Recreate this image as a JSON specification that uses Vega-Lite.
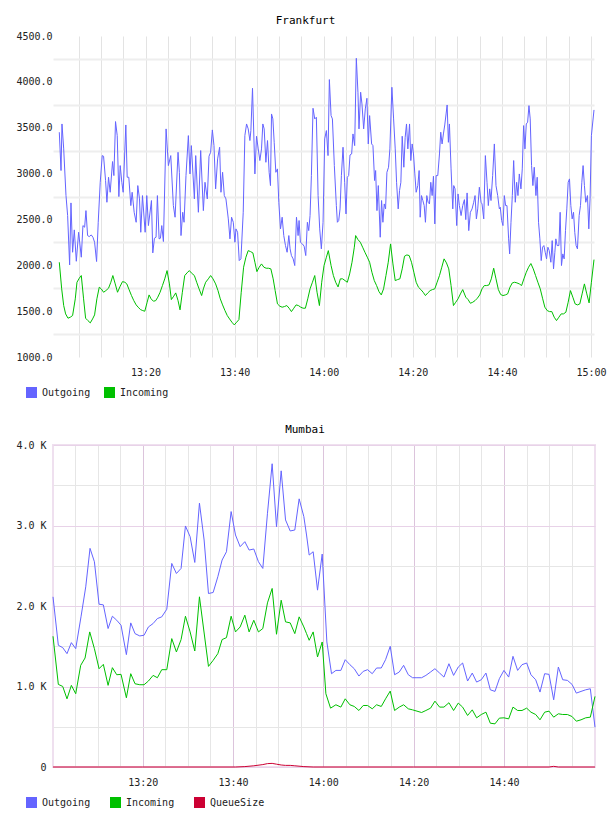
{
  "$schema": "https://vega.github.io/schema/vega-lite/v6.json",
  "background": "white",
  "padding": {"left": 14, "top": 15, "right": 0, "bottom": 0},
  "spacing": 10,
  "resolve": {"scale": {"color": "independent"}, "legend": {"color": "independent"}},
  "config": {
    "font": "DejaVu Sans Mono",
    "view": {"stroke": null},
    "axis": {
      "labelFont": "DejaVu Sans Mono",
      "labelFontSize": 10,
      "labelColor": "#222222",
      "ticks": false,
      "domain": false,
      "labelOverlap": false,
      "labelFlush": false
    },
    "title": {
      "font": "DejaVu Sans Mono",
      "fontSize": 11,
      "fontWeight": "normal",
      "color": "#000000",
      "anchor": "middle",
      "offset": 5
    }
  },
  "vconcat": [
    {
      "hconcat": [
        {
          "title": {"text": "Frankfurt", "dx": -18},
          "width": 541,
          "height": 321,
          "data": {
            "values": [
              {"time": "1900-01-01T13:00:39", "series": "Outgoing", "value": 3451},
              {"time": "1900-01-01T13:01:02", "series": "Outgoing", "value": 3033},
              {"time": "1900-01-01T13:01:15", "series": "Outgoing", "value": 3541},
              {"time": "1900-01-01T13:01:38", "series": "Outgoing", "value": 3269},
              {"time": "1900-01-01T13:02:09", "series": "Outgoing", "value": 2760},
              {"time": "1900-01-01T13:02:31", "series": "Outgoing", "value": 2542},
              {"time": "1900-01-01T13:02:58", "series": "Outgoing", "value": 2004},
              {"time": "1900-01-01T13:03:16", "series": "Outgoing", "value": 2680},
              {"time": "1900-01-01T13:03:38", "series": "Outgoing", "value": 2142},
              {"time": "1900-01-01T13:04:01", "series": "Outgoing", "value": 2386},
              {"time": "1900-01-01T13:04:28", "series": "Outgoing", "value": 2044},
              {"time": "1900-01-01T13:04:59", "series": "Outgoing", "value": 2360},
              {"time": "1900-01-01T13:05:35", "series": "Outgoing", "value": 2088},
              {"time": "1900-01-01T13:05:57", "series": "Outgoing", "value": 2433},
              {"time": "1900-01-01T13:06:20", "series": "Outgoing", "value": 2415},
              {"time": "1900-01-01T13:06:38", "series": "Outgoing", "value": 2596},
              {"time": "1900-01-01T13:07:00", "series": "Outgoing", "value": 2324},
              {"time": "1900-01-01T13:07:22", "series": "Outgoing", "value": 2313},
              {"time": "1900-01-01T13:07:49", "series": "Outgoing", "value": 2331},
              {"time": "1900-01-01T13:08:12", "series": "Outgoing", "value": 2306},
              {"time": "1900-01-01T13:08:34", "series": "Outgoing", "value": 2251},
              {"time": "1900-01-01T13:09:01", "series": "Outgoing", "value": 2041},
              {"time": "1900-01-01T13:09:23", "series": "Outgoing", "value": 2469},
              {"time": "1900-01-01T13:09:50", "series": "Outgoing", "value": 2905},
              {"time": "1900-01-01T13:10:17", "series": "Outgoing", "value": 3196},
              {"time": "1900-01-01T13:10:35", "series": "Outgoing", "value": 3189},
              {"time": "1900-01-01T13:11:02", "series": "Outgoing", "value": 2924},
              {"time": "1900-01-01T13:11:20", "series": "Outgoing", "value": 2687},
              {"time": "1900-01-01T13:11:42", "series": "Outgoing", "value": 2960},
              {"time": "1900-01-01T13:12:04", "series": "Outgoing", "value": 2796},
              {"time": "1900-01-01T13:12:36", "series": "Outgoing", "value": 3131},
              {"time": "1900-01-01T13:12:54", "series": "Outgoing", "value": 2978},
              {"time": "1900-01-01T13:13:16", "series": "Outgoing", "value": 3567},
              {"time": "1900-01-01T13:13:39", "series": "Outgoing", "value": 3414},
              {"time": "1900-01-01T13:14:01", "series": "Outgoing", "value": 2749},
              {"time": "1900-01-01T13:14:19", "series": "Outgoing", "value": 3087},
              {"time": "1900-01-01T13:14:41", "series": "Outgoing", "value": 2905},
              {"time": "1900-01-01T13:14:59", "series": "Outgoing", "value": 2796},
              {"time": "1900-01-01T13:15:35", "series": "Outgoing", "value": 3530},
              {"time": "1900-01-01T13:15:53", "series": "Outgoing", "value": 2960},
              {"time": "1900-01-01T13:16:15", "series": "Outgoing", "value": 2960},
              {"time": "1900-01-01T13:16:42", "series": "Outgoing", "value": 2651},
              {"time": "1900-01-01T13:17:00", "series": "Outgoing", "value": 2796},
              {"time": "1900-01-01T13:17:27", "series": "Outgoing", "value": 2578},
              {"time": "1900-01-01T13:17:54", "series": "Outgoing", "value": 2469},
              {"time": "1900-01-01T13:18:16", "series": "Outgoing", "value": 2869},
              {"time": "1900-01-01T13:18:39", "series": "Outgoing", "value": 2724},
              {"time": "1900-01-01T13:18:56", "series": "Outgoing", "value": 2360},
              {"time": "1900-01-01T13:19:19", "series": "Outgoing", "value": 2760},
              {"time": "1900-01-01T13:19:55", "series": "Outgoing", "value": 2360},
              {"time": "1900-01-01T13:20:17", "series": "Outgoing", "value": 2760},
              {"time": "1900-01-01T13:20:39", "series": "Outgoing", "value": 2433},
              {"time": "1900-01-01T13:21:20", "series": "Outgoing", "value": 2706},
              {"time": "1900-01-01T13:21:38", "series": "Outgoing", "value": 2135},
              {"time": "1900-01-01T13:22:00", "series": "Outgoing", "value": 2295},
              {"time": "1900-01-01T13:22:22", "series": "Outgoing", "value": 2306},
              {"time": "1900-01-01T13:22:40", "series": "Outgoing", "value": 2760},
              {"time": "1900-01-01T13:23:03", "series": "Outgoing", "value": 2288},
              {"time": "1900-01-01T13:23:21", "series": "Outgoing", "value": 2295},
              {"time": "1900-01-01T13:23:39", "series": "Outgoing", "value": 2433},
              {"time": "1900-01-01T13:24:01", "series": "Outgoing", "value": 2259},
              {"time": "1900-01-01T13:24:37", "series": "Outgoing", "value": 3487},
              {"time": "1900-01-01T13:25:08", "series": "Outgoing", "value": 3087},
              {"time": "1900-01-01T13:25:40", "series": "Outgoing", "value": 3196},
              {"time": "1900-01-01T13:26:15", "series": "Outgoing", "value": 2651},
              {"time": "1900-01-01T13:26:38", "series": "Outgoing", "value": 2524},
              {"time": "1900-01-01T13:27:18", "series": "Outgoing", "value": 3232},
              {"time": "1900-01-01T13:27:36", "series": "Outgoing", "value": 3014},
              {"time": "1900-01-01T13:27:58", "series": "Outgoing", "value": 2324},
              {"time": "1900-01-01T13:28:21", "series": "Outgoing", "value": 2578},
              {"time": "1900-01-01T13:28:39", "series": "Outgoing", "value": 2469},
              {"time": "1900-01-01T13:29:05", "series": "Outgoing", "value": 2978},
              {"time": "1900-01-01T13:29:37", "series": "Outgoing", "value": 3414},
              {"time": "1900-01-01T13:29:59", "series": "Outgoing", "value": 2996},
              {"time": "1900-01-01T13:30:17", "series": "Outgoing", "value": 3305},
              {"time": "1900-01-01T13:30:58", "series": "Outgoing", "value": 2724},
              {"time": "1900-01-01T13:31:16", "series": "Outgoing", "value": 3196},
              {"time": "1900-01-01T13:31:52", "series": "Outgoing", "value": 2578},
              {"time": "1900-01-01T13:32:23", "series": "Outgoing", "value": 3251},
              {"time": "1900-01-01T13:32:59", "series": "Outgoing", "value": 2596},
              {"time": "1900-01-01T13:33:21", "series": "Outgoing", "value": 2905},
              {"time": "1900-01-01T13:33:52", "series": "Outgoing", "value": 2724},
              {"time": "1900-01-01T13:34:15", "series": "Outgoing", "value": 3189},
              {"time": "1900-01-01T13:34:37", "series": "Outgoing", "value": 3232},
              {"time": "1900-01-01T13:35:00", "series": "Outgoing", "value": 3476},
              {"time": "1900-01-01T13:35:22", "series": "Outgoing", "value": 3305},
              {"time": "1900-01-01T13:35:44", "series": "Outgoing", "value": 2833},
              {"time": "1900-01-01T13:36:11", "series": "Outgoing", "value": 3160},
              {"time": "1900-01-01T13:36:38", "series": "Outgoing", "value": 3287},
              {"time": "1900-01-01T13:36:56", "series": "Outgoing", "value": 2796},
              {"time": "1900-01-01T13:37:18", "series": "Outgoing", "value": 3014},
              {"time": "1900-01-01T13:37:41", "series": "Outgoing", "value": 2760},
              {"time": "1900-01-01T13:38:03", "series": "Outgoing", "value": 2724},
              {"time": "1900-01-01T13:38:35", "series": "Outgoing", "value": 2506},
              {"time": "1900-01-01T13:38:57", "series": "Outgoing", "value": 2288},
              {"time": "1900-01-01T13:39:19", "series": "Outgoing", "value": 2524},
              {"time": "1900-01-01T13:39:42", "series": "Outgoing", "value": 2469},
              {"time": "1900-01-01T13:40:04", "series": "Outgoing", "value": 2251},
              {"time": "1900-01-01T13:40:18", "series": "Outgoing", "value": 2397},
              {"time": "1900-01-01T13:40:40", "series": "Outgoing", "value": 2360},
              {"time": "1900-01-01T13:41:02", "series": "Outgoing", "value": 2051},
              {"time": "1900-01-01T13:41:25", "series": "Outgoing", "value": 2070},
              {"time": "1900-01-01T13:41:56", "series": "Outgoing", "value": 2578},
              {"time": "1900-01-01T13:42:18", "series": "Outgoing", "value": 3414},
              {"time": "1900-01-01T13:42:41", "series": "Outgoing", "value": 3541},
              {"time": "1900-01-01T13:43:03", "series": "Outgoing", "value": 3487},
              {"time": "1900-01-01T13:43:26", "series": "Outgoing", "value": 3360},
              {"time": "1900-01-01T13:43:39", "series": "Outgoing", "value": 3469},
              {"time": "1900-01-01T13:44:01", "series": "Outgoing", "value": 3930},
              {"time": "1900-01-01T13:44:33", "series": "Outgoing", "value": 2996},
              {"time": "1900-01-01T13:44:55", "series": "Outgoing", "value": 3407},
              {"time": "1900-01-01T13:45:18", "series": "Outgoing", "value": 3269},
              {"time": "1900-01-01T13:45:40", "series": "Outgoing", "value": 3142},
              {"time": "1900-01-01T13:46:02", "series": "Outgoing", "value": 3269},
              {"time": "1900-01-01T13:46:20", "series": "Outgoing", "value": 3541},
              {"time": "1900-01-01T13:46:38", "series": "Outgoing", "value": 3487},
              {"time": "1900-01-01T13:47:01", "series": "Outgoing", "value": 3123},
              {"time": "1900-01-01T13:47:23", "series": "Outgoing", "value": 3360},
              {"time": "1900-01-01T13:47:45", "series": "Outgoing", "value": 3014},
              {"time": "1900-01-01T13:48:03", "series": "Outgoing", "value": 2869},
              {"time": "1900-01-01T13:48:17", "series": "Outgoing", "value": 3650},
              {"time": "1900-01-01T13:48:35", "series": "Outgoing", "value": 3596},
              {"time": "1900-01-01T13:48:53", "series": "Outgoing", "value": 3341},
              {"time": "1900-01-01T13:49:15", "series": "Outgoing", "value": 3014},
              {"time": "1900-01-01T13:49:37", "series": "Outgoing", "value": 3051},
              {"time": "1900-01-01T13:49:55", "series": "Outgoing", "value": 2687},
              {"time": "1900-01-01T13:50:18", "series": "Outgoing", "value": 2397},
              {"time": "1900-01-01T13:50:40", "series": "Outgoing", "value": 2524},
              {"time": "1900-01-01T13:51:02", "series": "Outgoing", "value": 2324},
              {"time": "1900-01-01T13:51:25", "series": "Outgoing", "value": 2215},
              {"time": "1900-01-01T13:51:47", "series": "Outgoing", "value": 2142},
              {"time": "1900-01-01T13:52:10", "series": "Outgoing", "value": 2324},
              {"time": "1900-01-01T13:52:27", "series": "Outgoing", "value": 2179},
              {"time": "1900-01-01T13:52:45", "series": "Outgoing", "value": 2106},
              {"time": "1900-01-01T13:53:08", "series": "Outgoing", "value": 2070},
              {"time": "1900-01-01T13:53:30", "series": "Outgoing", "value": 1997},
              {"time": "1900-01-01T13:53:53", "series": "Outgoing", "value": 2524},
              {"time": "1900-01-01T13:54:15", "series": "Outgoing", "value": 2324},
              {"time": "1900-01-01T13:54:28", "series": "Outgoing", "value": 2488},
              {"time": "1900-01-01T13:54:46", "series": "Outgoing", "value": 2251},
              {"time": "1900-01-01T13:55:13", "series": "Outgoing", "value": 2233},
              {"time": "1900-01-01T13:55:36", "series": "Outgoing", "value": 2208},
              {"time": "1900-01-01T13:55:58", "series": "Outgoing", "value": 2106},
              {"time": "1900-01-01T13:56:20", "series": "Outgoing", "value": 2469},
              {"time": "1900-01-01T13:56:38", "series": "Outgoing", "value": 2378},
              {"time": "1900-01-01T13:56:56", "series": "Outgoing", "value": 2542},
              {"time": "1900-01-01T13:57:14", "series": "Outgoing", "value": 2978},
              {"time": "1900-01-01T13:57:36", "series": "Outgoing", "value": 3712},
              {"time": "1900-01-01T13:57:59", "series": "Outgoing", "value": 3596},
              {"time": "1900-01-01T13:58:21", "series": "Outgoing", "value": 3614},
              {"time": "1900-01-01T13:58:44", "series": "Outgoing", "value": 2760},
              {"time": "1900-01-01T13:59:06", "series": "Outgoing", "value": 2397},
              {"time": "1900-01-01T13:59:28", "series": "Outgoing", "value": 2179},
              {"time": "1900-01-01T13:59:51", "series": "Outgoing", "value": 2469},
              {"time": "1900-01-01T14:00:13", "series": "Outgoing", "value": 3378},
              {"time": "1900-01-01T14:00:36", "series": "Outgoing", "value": 3469},
              {"time": "1900-01-01T14:00:58", "series": "Outgoing", "value": 3196},
              {"time": "1900-01-01T14:01:16", "series": "Outgoing", "value": 4025},
              {"time": "1900-01-01T14:01:39", "series": "Outgoing", "value": 3632},
              {"time": "1900-01-01T14:01:57", "series": "Outgoing", "value": 3596},
              {"time": "1900-01-01T14:02:23", "series": "Outgoing", "value": 3087},
              {"time": "1900-01-01T14:02:50", "series": "Outgoing", "value": 2651},
              {"time": "1900-01-01T14:03:04", "series": "Outgoing", "value": 2469},
              {"time": "1900-01-01T14:03:22", "series": "Outgoing", "value": 2488},
              {"time": "1900-01-01T14:03:40", "series": "Outgoing", "value": 2615},
              {"time": "1900-01-01T14:03:58", "series": "Outgoing", "value": 2978},
              {"time": "1900-01-01T14:04:20", "series": "Outgoing", "value": 3287},
              {"time": "1900-01-01T14:04:42", "series": "Outgoing", "value": 2905},
              {"time": "1900-01-01T14:05:00", "series": "Outgoing", "value": 2560},
              {"time": "1900-01-01T14:05:18", "series": "Outgoing", "value": 2960},
              {"time": "1900-01-01T14:05:36", "series": "Outgoing", "value": 2978},
              {"time": "1900-01-01T14:05:54", "series": "Outgoing", "value": 3203},
              {"time": "1900-01-01T14:06:16", "series": "Outgoing", "value": 3214},
              {"time": "1900-01-01T14:06:34", "series": "Outgoing", "value": 3432},
              {"time": "1900-01-01T14:06:57", "series": "Outgoing", "value": 3305},
              {"time": "1900-01-01T14:07:19", "series": "Outgoing", "value": 4257},
              {"time": "1900-01-01T14:07:41", "series": "Outgoing", "value": 3887},
              {"time": "1900-01-01T14:07:55", "series": "Outgoing", "value": 3487},
              {"time": "1900-01-01T14:08:17", "series": "Outgoing", "value": 3887},
              {"time": "1900-01-01T14:08:35", "series": "Outgoing", "value": 3759},
              {"time": "1900-01-01T14:08:58", "series": "Outgoing", "value": 3487},
              {"time": "1900-01-01T14:09:20", "series": "Outgoing", "value": 3705},
              {"time": "1900-01-01T14:09:42", "series": "Outgoing", "value": 3821},
              {"time": "1900-01-01T14:10:00", "series": "Outgoing", "value": 3323},
              {"time": "1900-01-01T14:10:18", "series": "Outgoing", "value": 3632},
              {"time": "1900-01-01T14:10:45", "series": "Outgoing", "value": 3323},
              {"time": "1900-01-01T14:11:03", "series": "Outgoing", "value": 3305},
              {"time": "1900-01-01T14:11:25", "series": "Outgoing", "value": 2924},
              {"time": "1900-01-01T14:11:39", "series": "Outgoing", "value": 3033},
              {"time": "1900-01-01T14:11:57", "series": "Outgoing", "value": 2596},
              {"time": "1900-01-01T14:12:15", "series": "Outgoing", "value": 2869},
              {"time": "1900-01-01T14:12:41", "series": "Outgoing", "value": 2306},
              {"time": "1900-01-01T14:12:59", "series": "Outgoing", "value": 2706},
              {"time": "1900-01-01T14:13:17", "series": "Outgoing", "value": 2469},
              {"time": "1900-01-01T14:13:35", "series": "Outgoing", "value": 2669},
              {"time": "1900-01-01T14:13:53", "series": "Outgoing", "value": 2615},
              {"time": "1900-01-01T14:14:11", "series": "Outgoing", "value": 3014},
              {"time": "1900-01-01T14:14:33", "series": "Outgoing", "value": 3069},
              {"time": "1900-01-01T14:14:51", "series": "Outgoing", "value": 3269},
              {"time": "1900-01-01T14:15:18", "series": "Outgoing", "value": 3941},
              {"time": "1900-01-01T14:15:41", "series": "Outgoing", "value": 3596},
              {"time": "1900-01-01T14:16:03", "series": "Outgoing", "value": 3269},
              {"time": "1900-01-01T14:16:21", "series": "Outgoing", "value": 2905},
              {"time": "1900-01-01T14:16:43", "series": "Outgoing", "value": 2615},
              {"time": "1900-01-01T14:17:01", "series": "Outgoing", "value": 2815},
              {"time": "1900-01-01T14:17:19", "series": "Outgoing", "value": 2905},
              {"time": "1900-01-01T14:17:37", "series": "Outgoing", "value": 3407},
              {"time": "1900-01-01T14:17:59", "series": "Outgoing", "value": 3069},
              {"time": "1900-01-01T14:18:17", "series": "Outgoing", "value": 3396},
              {"time": "1900-01-01T14:18:35", "series": "Outgoing", "value": 3541},
              {"time": "1900-01-01T14:18:53", "series": "Outgoing", "value": 3269},
              {"time": "1900-01-01T14:19:16", "series": "Outgoing", "value": 3541},
              {"time": "1900-01-01T14:19:33", "series": "Outgoing", "value": 3142},
              {"time": "1900-01-01T14:19:51", "series": "Outgoing", "value": 3323},
              {"time": "1900-01-01T14:20:09", "series": "Outgoing", "value": 3214},
              {"time": "1900-01-01T14:20:27", "series": "Outgoing", "value": 2996},
              {"time": "1900-01-01T14:20:45", "series": "Outgoing", "value": 2796},
              {"time": "1900-01-01T14:21:07", "series": "Outgoing", "value": 2869},
              {"time": "1900-01-01T14:21:25", "series": "Outgoing", "value": 3033},
              {"time": "1900-01-01T14:21:39", "series": "Outgoing", "value": 2524},
              {"time": "1900-01-01T14:21:57", "series": "Outgoing", "value": 2760},
              {"time": "1900-01-01T14:22:15", "series": "Outgoing", "value": 2706},
              {"time": "1900-01-01T14:22:33", "series": "Outgoing", "value": 2651},
              {"time": "1900-01-01T14:22:50", "series": "Outgoing", "value": 2469},
              {"time": "1900-01-01T14:23:08", "series": "Outgoing", "value": 2760},
              {"time": "1900-01-01T14:23:26", "series": "Outgoing", "value": 2687},
              {"time": "1900-01-01T14:23:44", "series": "Outgoing", "value": 2669},
              {"time": "1900-01-01T14:24:02", "series": "Outgoing", "value": 2905},
              {"time": "1900-01-01T14:24:20", "series": "Outgoing", "value": 2760},
              {"time": "1900-01-01T14:24:38", "series": "Outgoing", "value": 2971},
              {"time": "1900-01-01T14:24:56", "series": "Outgoing", "value": 2451},
              {"time": "1900-01-01T14:25:14", "series": "Outgoing", "value": 2978},
              {"time": "1900-01-01T14:25:36", "series": "Outgoing", "value": 2978},
              {"time": "1900-01-01T14:25:59", "series": "Outgoing", "value": 3214},
              {"time": "1900-01-01T14:26:16", "series": "Outgoing", "value": 3451},
              {"time": "1900-01-01T14:26:34", "series": "Outgoing", "value": 3323},
              {"time": "1900-01-01T14:26:52", "series": "Outgoing", "value": 3432},
              {"time": "1900-01-01T14:27:10", "series": "Outgoing", "value": 3530},
              {"time": "1900-01-01T14:27:28", "series": "Outgoing", "value": 3650},
              {"time": "1900-01-01T14:27:42", "series": "Outgoing", "value": 3748},
              {"time": "1900-01-01T14:27:59", "series": "Outgoing", "value": 3341},
              {"time": "1900-01-01T14:28:13", "series": "Outgoing", "value": 3541},
              {"time": "1900-01-01T14:28:35", "series": "Outgoing", "value": 3051},
              {"time": "1900-01-01T14:28:58", "series": "Outgoing", "value": 2615},
              {"time": "1900-01-01T14:29:11", "series": "Outgoing", "value": 2869},
              {"time": "1900-01-01T14:29:29", "series": "Outgoing", "value": 2833},
              {"time": "1900-01-01T14:29:51", "series": "Outgoing", "value": 2433},
              {"time": "1900-01-01T14:30:09", "series": "Outgoing", "value": 2778},
              {"time": "1900-01-01T14:30:27", "series": "Outgoing", "value": 2651},
              {"time": "1900-01-01T14:30:50", "series": "Outgoing", "value": 2542},
              {"time": "1900-01-01T14:31:12", "series": "Outgoing", "value": 2651},
              {"time": "1900-01-01T14:31:35", "series": "Outgoing", "value": 2716},
              {"time": "1900-01-01T14:31:53", "series": "Outgoing", "value": 2498},
              {"time": "1900-01-01T14:32:11", "series": "Outgoing", "value": 2789},
              {"time": "1900-01-01T14:32:33", "series": "Outgoing", "value": 2378},
              {"time": "1900-01-01T14:32:55", "series": "Outgoing", "value": 2578},
              {"time": "1900-01-01T14:33:18", "series": "Outgoing", "value": 2615},
              {"time": "1900-01-01T14:33:40", "series": "Outgoing", "value": 2687},
              {"time": "1900-01-01T14:33:58", "series": "Outgoing", "value": 2760},
              {"time": "1900-01-01T14:34:16", "series": "Outgoing", "value": 2506},
              {"time": "1900-01-01T14:34:34", "series": "Outgoing", "value": 2615},
              {"time": "1900-01-01T14:34:56", "series": "Outgoing", "value": 2851},
              {"time": "1900-01-01T14:35:19", "series": "Outgoing", "value": 2687},
              {"time": "1900-01-01T14:35:32", "series": "Outgoing", "value": 2669},
              {"time": "1900-01-01T14:35:55", "series": "Outgoing", "value": 2506},
              {"time": "1900-01-01T14:36:17", "series": "Outgoing", "value": 3196},
              {"time": "1900-01-01T14:36:39", "series": "Outgoing", "value": 2905},
              {"time": "1900-01-01T14:36:57", "series": "Outgoing", "value": 2651},
              {"time": "1900-01-01T14:37:15", "series": "Outgoing", "value": 2833},
              {"time": "1900-01-01T14:37:33", "series": "Outgoing", "value": 2706},
              {"time": "1900-01-01T14:37:55", "series": "Outgoing", "value": 2978},
              {"time": "1900-01-01T14:38:18", "series": "Outgoing", "value": 3323},
              {"time": "1900-01-01T14:38:40", "series": "Outgoing", "value": 2869},
              {"time": "1900-01-01T14:39:03", "series": "Outgoing", "value": 2760},
              {"time": "1900-01-01T14:39:25", "series": "Outgoing", "value": 2615},
              {"time": "1900-01-01T14:39:38", "series": "Outgoing", "value": 2633},
              {"time": "1900-01-01T14:39:56", "series": "Outgoing", "value": 2488},
              {"time": "1900-01-01T14:40:14", "series": "Outgoing", "value": 2433},
              {"time": "1900-01-01T14:40:32", "series": "Outgoing", "value": 2760},
              {"time": "1900-01-01T14:40:50", "series": "Outgoing", "value": 2651},
              {"time": "1900-01-01T14:41:08", "series": "Outgoing", "value": 2651},
              {"time": "1900-01-01T14:41:30", "series": "Outgoing", "value": 2288},
              {"time": "1900-01-01T14:41:44", "series": "Outgoing", "value": 2124},
              {"time": "1900-01-01T14:42:02", "series": "Outgoing", "value": 2469},
              {"time": "1900-01-01T14:42:20", "series": "Outgoing", "value": 2760},
              {"time": "1900-01-01T14:42:38", "series": "Outgoing", "value": 3142},
              {"time": "1900-01-01T14:43:00", "series": "Outgoing", "value": 2687},
              {"time": "1900-01-01T14:43:18", "series": "Outgoing", "value": 2905},
              {"time": "1900-01-01T14:43:36", "series": "Outgoing", "value": 2760},
              {"time": "1900-01-01T14:43:54", "series": "Outgoing", "value": 2996},
              {"time": "1900-01-01T14:44:16", "series": "Outgoing", "value": 2833},
              {"time": "1900-01-01T14:44:34", "series": "Outgoing", "value": 3051},
              {"time": "1900-01-01T14:44:52", "series": "Outgoing", "value": 3523},
              {"time": "1900-01-01T14:45:10", "series": "Outgoing", "value": 3269},
              {"time": "1900-01-01T14:45:28", "series": "Outgoing", "value": 3541},
              {"time": "1900-01-01T14:45:46", "series": "Outgoing", "value": 3560},
              {"time": "1900-01-01T14:46:04", "series": "Outgoing", "value": 3741},
              {"time": "1900-01-01T14:46:21", "series": "Outgoing", "value": 3596},
              {"time": "1900-01-01T14:46:39", "series": "Outgoing", "value": 3087},
              {"time": "1900-01-01T14:46:57", "series": "Outgoing", "value": 2869},
              {"time": "1900-01-01T14:47:15", "series": "Outgoing", "value": 3069},
              {"time": "1900-01-01T14:47:38", "series": "Outgoing", "value": 2760},
              {"time": "1900-01-01T14:47:55", "series": "Outgoing", "value": 2960},
              {"time": "1900-01-01T14:48:13", "series": "Outgoing", "value": 2469},
              {"time": "1900-01-01T14:48:31", "series": "Outgoing", "value": 2288},
              {"time": "1900-01-01T14:48:49", "series": "Outgoing", "value": 2051},
              {"time": "1900-01-01T14:49:07", "series": "Outgoing", "value": 2197},
              {"time": "1900-01-01T14:49:25", "series": "Outgoing", "value": 2215},
              {"time": "1900-01-01T14:49:43", "series": "Outgoing", "value": 2142},
              {"time": "1900-01-01T14:50:01", "series": "Outgoing", "value": 2070},
              {"time": "1900-01-01T14:50:19", "series": "Outgoing", "value": 2197},
              {"time": "1900-01-01T14:50:37", "series": "Outgoing", "value": 2160},
              {"time": "1900-01-01T14:50:59", "series": "Outgoing", "value": 2033},
              {"time": "1900-01-01T14:51:17", "series": "Outgoing", "value": 2269},
              {"time": "1900-01-01T14:51:35", "series": "Outgoing", "value": 1961},
              {"time": "1900-01-01T14:51:53", "series": "Outgoing", "value": 2142},
              {"time": "1900-01-01T14:52:06", "series": "Outgoing", "value": 2288},
              {"time": "1900-01-01T14:52:24", "series": "Outgoing", "value": 2215},
              {"time": "1900-01-01T14:52:47", "series": "Outgoing", "value": 2215},
              {"time": "1900-01-01T14:53:04", "series": "Outgoing", "value": 2578},
              {"time": "1900-01-01T14:53:22", "series": "Outgoing", "value": 1997},
              {"time": "1900-01-01T14:53:40", "series": "Outgoing", "value": 2124},
              {"time": "1900-01-01T14:53:58", "series": "Outgoing", "value": 2070},
              {"time": "1900-01-01T14:54:16", "series": "Outgoing", "value": 2378},
              {"time": "1900-01-01T14:54:34", "series": "Outgoing", "value": 2615},
              {"time": "1900-01-01T14:54:52", "series": "Outgoing", "value": 2905},
              {"time": "1900-01-01T14:55:10", "series": "Outgoing", "value": 2942},
              {"time": "1900-01-01T14:55:28", "series": "Outgoing", "value": 2651},
              {"time": "1900-01-01T14:55:46", "series": "Outgoing", "value": 2506},
              {"time": "1900-01-01T14:56:04", "series": "Outgoing", "value": 2578},
              {"time": "1900-01-01T14:56:21", "series": "Outgoing", "value": 2360},
              {"time": "1900-01-01T14:56:39", "series": "Outgoing", "value": 2215},
              {"time": "1900-01-01T14:56:57", "series": "Outgoing", "value": 2179},
              {"time": "1900-01-01T14:57:20", "series": "Outgoing", "value": 2542},
              {"time": "1900-01-01T14:57:38", "series": "Outgoing", "value": 2651},
              {"time": "1900-01-01T14:57:56", "series": "Outgoing", "value": 2905},
              {"time": "1900-01-01T14:58:13", "series": "Outgoing", "value": 3087},
              {"time": "1900-01-01T14:58:31", "series": "Outgoing", "value": 2869},
              {"time": "1900-01-01T14:58:49", "series": "Outgoing", "value": 2687},
              {"time": "1900-01-01T14:59:12", "series": "Outgoing", "value": 2760},
              {"time": "1900-01-01T14:59:30", "series": "Outgoing", "value": 2397},
              {"time": "1900-01-01T14:59:47", "series": "Outgoing", "value": 2724},
              {"time": "1900-01-01T15:00:05", "series": "Outgoing", "value": 3414},
              {"time": "1900-01-01T15:00:40", "series": "Outgoing", "value": 3694},
              {"time": "1900-01-01T13:00:39", "series": "Incoming", "value": 2033},
              {"time": "1900-01-01T13:01:11", "series": "Incoming", "value": 1743},
              {"time": "1900-01-01T13:01:38", "series": "Incoming", "value": 1561},
              {"time": "1900-01-01T13:02:04", "series": "Incoming", "value": 1470},
              {"time": "1900-01-01T13:02:36", "series": "Incoming", "value": 1423},
              {"time": "1900-01-01T13:03:07", "series": "Incoming", "value": 1434},
              {"time": "1900-01-01T13:03:38", "series": "Incoming", "value": 1452},
              {"time": "1900-01-01T13:04:14", "series": "Incoming", "value": 1634},
              {"time": "1900-01-01T13:04:37", "series": "Incoming", "value": 1815},
              {"time": "1900-01-01T13:05:08", "series": "Incoming", "value": 1859},
              {"time": "1900-01-01T13:05:35", "series": "Incoming", "value": 1888},
              {"time": "1900-01-01T13:06:06", "series": "Incoming", "value": 1634},
              {"time": "1900-01-01T13:06:33", "series": "Incoming", "value": 1423},
              {"time": "1900-01-01T13:07:04", "series": "Incoming", "value": 1397},
              {"time": "1900-01-01T13:07:36", "series": "Incoming", "value": 1372},
              {"time": "1900-01-01T13:08:07", "series": "Incoming", "value": 1415},
              {"time": "1900-01-01T13:08:34", "series": "Incoming", "value": 1459},
              {"time": "1900-01-01T13:09:05", "series": "Incoming", "value": 1634},
              {"time": "1900-01-01T13:09:37", "series": "Incoming", "value": 1761},
              {"time": "1900-01-01T13:10:04", "series": "Incoming", "value": 1743},
              {"time": "1900-01-01T13:10:35", "series": "Incoming", "value": 1706},
              {"time": "1900-01-01T13:11:06", "series": "Incoming", "value": 1724},
              {"time": "1900-01-01T13:11:42", "series": "Incoming", "value": 1750},
              {"time": "1900-01-01T13:12:13", "series": "Incoming", "value": 1815},
              {"time": "1900-01-01T13:12:40", "series": "Incoming", "value": 1888},
              {"time": "1900-01-01T13:13:12", "series": "Incoming", "value": 1797},
              {"time": "1900-01-01T13:13:43", "series": "Incoming", "value": 1706},
              {"time": "1900-01-01T13:14:19", "series": "Incoming", "value": 1772},
              {"time": "1900-01-01T13:14:50", "series": "Incoming", "value": 1822},
              {"time": "1900-01-01T13:15:22", "series": "Incoming", "value": 1815},
              {"time": "1900-01-01T13:15:48", "series": "Incoming", "value": 1797},
              {"time": "1900-01-01T13:16:20", "series": "Incoming", "value": 1732},
              {"time": "1900-01-01T13:16:51", "series": "Incoming", "value": 1670},
              {"time": "1900-01-01T13:17:22", "series": "Incoming", "value": 1615},
              {"time": "1900-01-01T13:17:54", "series": "Incoming", "value": 1568},
              {"time": "1900-01-01T13:18:21", "series": "Incoming", "value": 1543},
              {"time": "1900-01-01T13:18:52", "series": "Incoming", "value": 1517},
              {"time": "1900-01-01T13:19:23", "series": "Incoming", "value": 1506},
              {"time": "1900-01-01T13:19:50", "series": "Incoming", "value": 1499},
              {"time": "1900-01-01T13:20:22", "series": "Incoming", "value": 1597},
              {"time": "1900-01-01T13:20:48", "series": "Incoming", "value": 1677},
              {"time": "1900-01-01T13:21:15", "series": "Incoming", "value": 1634},
              {"time": "1900-01-01T13:21:47", "series": "Incoming", "value": 1608},
              {"time": "1900-01-01T13:22:18", "series": "Incoming", "value": 1615},
              {"time": "1900-01-01T13:22:45", "series": "Incoming", "value": 1652},
              {"time": "1900-01-01T13:23:16", "series": "Incoming", "value": 1706},
              {"time": "1900-01-01T13:23:48", "series": "Incoming", "value": 1779},
              {"time": "1900-01-01T13:24:19", "series": "Incoming", "value": 1852},
              {"time": "1900-01-01T13:24:50", "series": "Incoming", "value": 1942},
              {"time": "1900-01-01T13:25:22", "series": "Incoming", "value": 1797},
              {"time": "1900-01-01T13:25:48", "series": "Incoming", "value": 1626},
              {"time": "1900-01-01T13:26:20", "series": "Incoming", "value": 1663},
              {"time": "1900-01-01T13:26:47", "series": "Incoming", "value": 1699},
              {"time": "1900-01-01T13:27:18", "series": "Incoming", "value": 1615},
              {"time": "1900-01-01T13:27:45", "series": "Incoming", "value": 1514},
              {"time": "1900-01-01T13:28:16", "series": "Incoming", "value": 1706},
              {"time": "1900-01-01T13:28:48", "series": "Incoming", "value": 1888},
              {"time": "1900-01-01T13:29:19", "series": "Incoming", "value": 1917},
              {"time": "1900-01-01T13:29:50", "series": "Incoming", "value": 1942},
              {"time": "1900-01-01T13:30:17", "series": "Incoming", "value": 1917},
              {"time": "1900-01-01T13:30:58", "series": "Incoming", "value": 1888},
              {"time": "1900-01-01T13:31:29", "series": "Incoming", "value": 1815},
              {"time": "1900-01-01T13:32:01", "series": "Incoming", "value": 1743},
              {"time": "1900-01-01T13:32:36", "series": "Incoming", "value": 1670},
              {"time": "1900-01-01T13:32:59", "series": "Incoming", "value": 1743},
              {"time": "1900-01-01T13:33:30", "series": "Incoming", "value": 1815},
              {"time": "1900-01-01T13:34:06", "series": "Incoming", "value": 1852},
              {"time": "1900-01-01T13:34:37", "series": "Incoming", "value": 1888},
              {"time": "1900-01-01T13:35:09", "series": "Incoming", "value": 1852},
              {"time": "1900-01-01T13:35:44", "series": "Incoming", "value": 1797},
              {"time": "1900-01-01T13:36:16", "series": "Incoming", "value": 1724},
              {"time": "1900-01-01T13:36:47", "series": "Incoming", "value": 1634},
              {"time": "1900-01-01T13:37:18", "series": "Incoming", "value": 1568},
              {"time": "1900-01-01T13:37:50", "series": "Incoming", "value": 1506},
              {"time": "1900-01-01T13:38:21", "series": "Incoming", "value": 1452},
              {"time": "1900-01-01T13:38:52", "series": "Incoming", "value": 1415},
              {"time": "1900-01-01T13:39:24", "series": "Incoming", "value": 1379},
              {"time": "1900-01-01T13:39:55", "series": "Incoming", "value": 1350},
              {"time": "1900-01-01T13:40:27", "series": "Incoming", "value": 1379},
              {"time": "1900-01-01T13:40:58", "series": "Incoming", "value": 1408},
              {"time": "1900-01-01T13:41:29", "series": "Incoming", "value": 1706},
              {"time": "1900-01-01T13:42:01", "series": "Incoming", "value": 1979},
              {"time": "1900-01-01T13:42:32", "series": "Incoming", "value": 2088},
              {"time": "1900-01-01T13:43:03", "series": "Incoming", "value": 2160},
              {"time": "1900-01-01T13:43:35", "series": "Incoming", "value": 2149},
              {"time": "1900-01-01T13:44:06", "series": "Incoming", "value": 2135},
              {"time": "1900-01-01T13:44:33", "series": "Incoming", "value": 2033},
              {"time": "1900-01-01T13:45:00", "series": "Incoming", "value": 1931},
              {"time": "1900-01-01T13:45:31", "series": "Incoming", "value": 1979},
              {"time": "1900-01-01T13:46:02", "series": "Incoming", "value": 2015},
              {"time": "1900-01-01T13:46:34", "series": "Incoming", "value": 1979},
              {"time": "1900-01-01T13:47:05", "series": "Incoming", "value": 1968},
              {"time": "1900-01-01T13:47:36", "series": "Incoming", "value": 1968},
              {"time": "1900-01-01T13:48:08", "series": "Incoming", "value": 1961},
              {"time": "1900-01-01T13:48:39", "series": "Incoming", "value": 1852},
              {"time": "1900-01-01T13:49:06", "series": "Incoming", "value": 1724},
              {"time": "1900-01-01T13:49:37", "series": "Incoming", "value": 1579},
              {"time": "1900-01-01T13:50:09", "series": "Incoming", "value": 1554},
              {"time": "1900-01-01T13:50:40", "series": "Incoming", "value": 1543},
              {"time": "1900-01-01T13:51:11", "series": "Incoming", "value": 1550},
              {"time": "1900-01-01T13:51:43", "series": "Incoming", "value": 1561},
              {"time": "1900-01-01T13:52:14", "series": "Incoming", "value": 1532},
              {"time": "1900-01-01T13:52:45", "series": "Incoming", "value": 1495},
              {"time": "1900-01-01T13:53:17", "series": "Incoming", "value": 1532},
              {"time": "1900-01-01T13:53:48", "series": "Incoming", "value": 1568},
              {"time": "1900-01-01T13:54:19", "series": "Incoming", "value": 1561},
              {"time": "1900-01-01T13:54:51", "series": "Incoming", "value": 1543},
              {"time": "1900-01-01T13:55:22", "series": "Incoming", "value": 1532},
              {"time": "1900-01-01T13:55:53", "series": "Incoming", "value": 1532},
              {"time": "1900-01-01T13:56:25", "series": "Incoming", "value": 1634},
              {"time": "1900-01-01T13:56:56", "series": "Incoming", "value": 1743},
              {"time": "1900-01-01T13:57:28", "series": "Incoming", "value": 1815},
              {"time": "1900-01-01T13:57:59", "series": "Incoming", "value": 1888},
              {"time": "1900-01-01T13:58:30", "series": "Incoming", "value": 1706},
              {"time": "1900-01-01T13:59:02", "series": "Incoming", "value": 1561},
              {"time": "1900-01-01T13:59:33", "series": "Incoming", "value": 1815},
              {"time": "1900-01-01T14:00:04", "series": "Incoming", "value": 1997},
              {"time": "1900-01-01T14:00:36", "series": "Incoming", "value": 2088},
              {"time": "1900-01-01T14:01:02", "series": "Incoming", "value": 2160},
              {"time": "1900-01-01T14:01:39", "series": "Incoming", "value": 1997},
              {"time": "1900-01-01T14:02:10", "series": "Incoming", "value": 1888},
              {"time": "1900-01-01T14:02:41", "series": "Incoming", "value": 1815},
              {"time": "1900-01-01T14:03:13", "series": "Incoming", "value": 1764},
              {"time": "1900-01-01T14:03:44", "series": "Incoming", "value": 1852},
              {"time": "1900-01-01T14:04:15", "series": "Incoming", "value": 1852},
              {"time": "1900-01-01T14:04:47", "series": "Incoming", "value": 1833},
              {"time": "1900-01-01T14:05:18", "series": "Incoming", "value": 1815},
              {"time": "1900-01-01T14:05:49", "series": "Incoming", "value": 1906},
              {"time": "1900-01-01T14:06:21", "series": "Incoming", "value": 2033},
              {"time": "1900-01-01T14:06:52", "series": "Incoming", "value": 2197},
              {"time": "1900-01-01T14:07:10", "series": "Incoming", "value": 2324},
              {"time": "1900-01-01T14:07:41", "series": "Incoming", "value": 2280},
              {"time": "1900-01-01T14:08:13", "series": "Incoming", "value": 2251},
              {"time": "1900-01-01T14:08:44", "series": "Incoming", "value": 2197},
              {"time": "1900-01-01T14:09:15", "series": "Incoming", "value": 2142},
              {"time": "1900-01-01T14:09:47", "series": "Incoming", "value": 2088},
              {"time": "1900-01-01T14:10:18", "series": "Incoming", "value": 2033},
              {"time": "1900-01-01T14:10:49", "series": "Incoming", "value": 1924},
              {"time": "1900-01-01T14:11:21", "series": "Incoming", "value": 1833},
              {"time": "1900-01-01T14:11:52", "series": "Incoming", "value": 1779},
              {"time": "1900-01-01T14:12:24", "series": "Incoming", "value": 1713},
              {"time": "1900-01-01T14:12:55", "series": "Incoming", "value": 1677},
              {"time": "1900-01-01T14:13:26", "series": "Incoming", "value": 1743},
              {"time": "1900-01-01T14:13:58", "series": "Incoming", "value": 1888},
              {"time": "1900-01-01T14:14:29", "series": "Incoming", "value": 2033},
              {"time": "1900-01-01T14:15:00", "series": "Incoming", "value": 2233},
              {"time": "1900-01-01T14:15:32", "series": "Incoming", "value": 2015},
              {"time": "1900-01-01T14:16:03", "series": "Incoming", "value": 1833},
              {"time": "1900-01-01T14:16:34", "series": "Incoming", "value": 1844},
              {"time": "1900-01-01T14:17:06", "series": "Incoming", "value": 1852},
              {"time": "1900-01-01T14:17:37", "series": "Incoming", "value": 1961},
              {"time": "1900-01-01T14:18:08", "series": "Incoming", "value": 2099},
              {"time": "1900-01-01T14:18:40", "series": "Incoming", "value": 2113},
              {"time": "1900-01-01T14:19:11", "series": "Incoming", "value": 2106},
              {"time": "1900-01-01T14:19:42", "series": "Incoming", "value": 2033},
              {"time": "1900-01-01T14:20:14", "series": "Incoming", "value": 1924},
              {"time": "1900-01-01T14:20:45", "series": "Incoming", "value": 1815},
              {"time": "1900-01-01T14:21:16", "series": "Incoming", "value": 1761},
              {"time": "1900-01-01T14:21:48", "series": "Incoming", "value": 1735},
              {"time": "1900-01-01T14:22:19", "series": "Incoming", "value": 1706},
              {"time": "1900-01-01T14:22:50", "series": "Incoming", "value": 1670},
              {"time": "1900-01-01T14:23:22", "series": "Incoming", "value": 1699},
              {"time": "1900-01-01T14:23:53", "series": "Incoming", "value": 1724},
              {"time": "1900-01-01T14:24:24", "series": "Incoming", "value": 1735},
              {"time": "1900-01-01T14:24:56", "series": "Incoming", "value": 1743},
              {"time": "1900-01-01T14:25:27", "series": "Incoming", "value": 1815},
              {"time": "1900-01-01T14:25:59", "series": "Incoming", "value": 1888},
              {"time": "1900-01-01T14:26:30", "series": "Incoming", "value": 1979},
              {"time": "1900-01-01T14:27:01", "series": "Incoming", "value": 2070},
              {"time": "1900-01-01T14:27:33", "series": "Incoming", "value": 2026},
              {"time": "1900-01-01T14:28:04", "series": "Incoming", "value": 1961},
              {"time": "1900-01-01T14:28:35", "series": "Incoming", "value": 1779},
              {"time": "1900-01-01T14:29:07", "series": "Incoming", "value": 1561},
              {"time": "1900-01-01T14:29:38", "series": "Incoming", "value": 1597},
              {"time": "1900-01-01T14:30:09", "series": "Incoming", "value": 1634},
              {"time": "1900-01-01T14:30:41", "series": "Incoming", "value": 1688},
              {"time": "1900-01-01T14:31:12", "series": "Incoming", "value": 1735},
              {"time": "1900-01-01T14:31:53", "series": "Incoming", "value": 1652},
              {"time": "1900-01-01T14:32:24", "series": "Incoming", "value": 1626},
              {"time": "1900-01-01T14:32:55", "series": "Incoming", "value": 1586},
              {"time": "1900-01-01T14:33:27", "series": "Incoming", "value": 1597},
              {"time": "1900-01-01T14:33:58", "series": "Incoming", "value": 1615},
              {"time": "1900-01-01T14:34:29", "series": "Incoming", "value": 1641},
              {"time": "1900-01-01T14:35:01", "series": "Incoming", "value": 1677},
              {"time": "1900-01-01T14:35:32", "series": "Incoming", "value": 1743},
              {"time": "1900-01-01T14:36:03", "series": "Incoming", "value": 1779},
              {"time": "1900-01-01T14:36:35", "series": "Incoming", "value": 1779},
              {"time": "1900-01-01T14:37:06", "series": "Incoming", "value": 1786},
              {"time": "1900-01-01T14:37:37", "series": "Incoming", "value": 1852},
              {"time": "1900-01-01T14:38:09", "series": "Incoming", "value": 1968},
              {"time": "1900-01-01T14:38:40", "series": "Incoming", "value": 1852},
              {"time": "1900-01-01T14:39:12", "series": "Incoming", "value": 1735},
              {"time": "1900-01-01T14:39:43", "series": "Incoming", "value": 1681},
              {"time": "1900-01-01T14:40:14", "series": "Incoming", "value": 1670},
              {"time": "1900-01-01T14:40:46", "series": "Incoming", "value": 1677},
              {"time": "1900-01-01T14:41:17", "series": "Incoming", "value": 1688},
              {"time": "1900-01-01T14:41:48", "series": "Incoming", "value": 1761},
              {"time": "1900-01-01T14:42:20", "series": "Incoming", "value": 1808},
              {"time": "1900-01-01T14:42:51", "series": "Incoming", "value": 1815},
              {"time": "1900-01-01T14:43:22", "series": "Incoming", "value": 1808},
              {"time": "1900-01-01T14:43:54", "series": "Incoming", "value": 1797},
              {"time": "1900-01-01T14:44:25", "series": "Incoming", "value": 1779},
              {"time": "1900-01-01T14:44:56", "series": "Incoming", "value": 1852},
              {"time": "1900-01-01T14:45:28", "series": "Incoming", "value": 1924},
              {"time": "1900-01-01T14:45:59", "series": "Incoming", "value": 1979},
              {"time": "1900-01-01T14:46:30", "series": "Incoming", "value": 2019},
              {"time": "1900-01-01T14:47:02", "series": "Incoming", "value": 1961},
              {"time": "1900-01-01T14:47:33", "series": "Incoming", "value": 1888},
              {"time": "1900-01-01T14:48:04", "series": "Incoming", "value": 1815},
              {"time": "1900-01-01T14:48:36", "series": "Incoming", "value": 1743},
              {"time": "1900-01-01T14:49:07", "series": "Incoming", "value": 1641},
              {"time": "1900-01-01T14:49:38", "series": "Incoming", "value": 1543},
              {"time": "1900-01-01T14:50:10", "series": "Incoming", "value": 1506},
              {"time": "1900-01-01T14:50:41", "series": "Incoming", "value": 1495},
              {"time": "1900-01-01T14:51:12", "series": "Incoming", "value": 1495},
              {"time": "1900-01-01T14:51:44", "series": "Incoming", "value": 1434},
              {"time": "1900-01-01T14:52:15", "series": "Incoming", "value": 1397},
              {"time": "1900-01-01T14:52:47", "series": "Incoming", "value": 1434},
              {"time": "1900-01-01T14:53:18", "series": "Incoming", "value": 1470},
              {"time": "1900-01-01T14:53:49", "series": "Incoming", "value": 1470},
              {"time": "1900-01-01T14:54:21", "series": "Incoming", "value": 1488},
              {"time": "1900-01-01T14:54:52", "series": "Incoming", "value": 1597},
              {"time": "1900-01-01T14:55:23", "series": "Incoming", "value": 1724},
              {"time": "1900-01-01T14:55:55", "series": "Incoming", "value": 1652},
              {"time": "1900-01-01T14:56:26", "series": "Incoming", "value": 1579},
              {"time": "1900-01-01T14:56:57", "series": "Incoming", "value": 1568},
              {"time": "1900-01-01T14:57:29", "series": "Incoming", "value": 1579},
              {"time": "1900-01-01T14:58:00", "series": "Incoming", "value": 1688},
              {"time": "1900-01-01T14:58:31", "series": "Incoming", "value": 1797},
              {"time": "1900-01-01T14:59:03", "series": "Incoming", "value": 1688},
              {"time": "1900-01-01T14:59:34", "series": "Incoming", "value": 1590},
              {"time": "1900-01-01T15:00:05", "series": "Incoming", "value": 1815},
              {"time": "1900-01-01T15:00:40", "series": "Incoming", "value": 2062}
            ]
          },
          "mark": {"type": "line", "strokeWidth": 1},
          "encoding": {
            "x": {
              "field": "time",
              "type": "temporal",
              "title": null,
              "scale": {
                "domain": [
                  {"year": 1900, "month": 1, "date": 1, "hours": 12, "minutes": 59, "seconds": 14},
                  {"year": 1900, "month": 1, "date": 1, "hours": 15, "minutes": 0, "seconds": 40}
                ]
              },
              "axis": {
                "values": [
                  {"year": 1900, "month": 1, "date": 1, "hours": 13, "minutes": 5},
                  {"year": 1900, "month": 1, "date": 1, "hours": 13, "minutes": 10},
                  {"year": 1900, "month": 1, "date": 1, "hours": 13, "minutes": 15},
                  {"year": 1900, "month": 1, "date": 1, "hours": 13, "minutes": 20},
                  {"year": 1900, "month": 1, "date": 1, "hours": 13, "minutes": 25},
                  {"year": 1900, "month": 1, "date": 1, "hours": 13, "minutes": 30},
                  {"year": 1900, "month": 1, "date": 1, "hours": 13, "minutes": 35},
                  {"year": 1900, "month": 1, "date": 1, "hours": 13, "minutes": 40},
                  {"year": 1900, "month": 1, "date": 1, "hours": 13, "minutes": 45},
                  {"year": 1900, "month": 1, "date": 1, "hours": 13, "minutes": 50},
                  {"year": 1900, "month": 1, "date": 1, "hours": 13, "minutes": 55},
                  {"year": 1900, "month": 1, "date": 1, "hours": 14, "minutes": 0},
                  {"year": 1900, "month": 1, "date": 1, "hours": 14, "minutes": 5},
                  {"year": 1900, "month": 1, "date": 1, "hours": 14, "minutes": 10},
                  {"year": 1900, "month": 1, "date": 1, "hours": 14, "minutes": 15},
                  {"year": 1900, "month": 1, "date": 1, "hours": 14, "minutes": 20},
                  {"year": 1900, "month": 1, "date": 1, "hours": 14, "minutes": 25},
                  {"year": 1900, "month": 1, "date": 1, "hours": 14, "minutes": 30},
                  {"year": 1900, "month": 1, "date": 1, "hours": 14, "minutes": 35},
                  {"year": 1900, "month": 1, "date": 1, "hours": 14, "minutes": 40},
                  {"year": 1900, "month": 1, "date": 1, "hours": 14, "minutes": 45},
                  {"year": 1900, "month": 1, "date": 1, "hours": 14, "minutes": 50},
                  {"year": 1900, "month": 1, "date": 1, "hours": 14, "minutes": 55},
                  {"year": 1900, "month": 1, "date": 1, "hours": 15, "minutes": 0}
                ],
                "labelExpr": "minutes(datum.value) % 20 === 0 ? timeFormat(datum.value, '%H:%M') : ''",
                "grid": true,
                "gridColor": "#e3e3e3",
                "gridWidth": 1,
                "labelPadding": 10
              }
            },
            "y": {
              "field": "value",
              "type": "quantitative",
              "title": null,
              "scale": {"domain": [1000, 4500], "nice": false, "zero": false},
              "axis": {
                "values": [1000, 1250, 1500, 1750, 2000, 2250, 2500, 2750, 3000, 3250, 3500, 3750, 4000, 4250, 4500],
                "labelExpr": "datum.value % 500 === 0 ? format(datum.value, '.1f') : ''",
                "grid": true,
                "gridColor": {"condition": {"test": "datum.value % 500 === 0", "value": "transparent"}, "value": "#eeeeee"},
                "gridWidth": 2,
                "labelPadding": 1
              }
            },
            "color": {
              "field": "series",
              "type": "nominal",
              "scale": {"domain": ["Outgoing", "Incoming"], "range": ["#6464ff", "#00c000"]},
              "legend": {
                "title": null,
                "orient": "none",
                "direction": "horizontal",
                "legendX": -27,
                "legendY": 351,
                "symbolType": "square",
                "symbolSize": 1,
                "symbolStrokeWidth": 10,
                "labelFont": "DejaVu Sans Mono",
                "labelFontSize": 10,
                "labelColor": "#222222",
                "labelOffset": 5,
                "columnPadding": -2,
                "gridAlign": "all"
              }
            }
          }
        }
      ]
    },
    {
      "hconcat": [
        {
          "title": {"text": "Mumbai", "dx": -19},
          "width": 542,
          "height": 322,
          "view": {"stroke": "#efe0ef", "strokeWidth": 2},
          "data": {
            "values": [
              {"time": "1900-01-01T13:00:08", "series": "Outgoing", "value": 2114},
              {"time": "1900-01-01T13:01:19", "series": "Outgoing", "value": 1512},
              {"time": "1900-01-01T13:02:17", "series": "Outgoing", "value": 1483},
              {"time": "1900-01-01T13:03:14", "series": "Outgoing", "value": 1408},
              {"time": "1900-01-01T13:04:12", "series": "Outgoing", "value": 1545},
              {"time": "1900-01-01T13:05:10", "series": "Outgoing", "value": 1470},
              {"time": "1900-01-01T13:06:20", "series": "Outgoing", "value": 1865},
              {"time": "1900-01-01T13:07:23", "series": "Outgoing", "value": 2238},
              {"time": "1900-01-01T13:08:20", "series": "Outgoing", "value": 2716},
              {"time": "1900-01-01T13:09:18", "series": "Outgoing", "value": 2550},
              {"time": "1900-01-01T13:10:20", "series": "Outgoing", "value": 2022},
              {"time": "1900-01-01T13:11:17", "series": "Outgoing", "value": 2014},
              {"time": "1900-01-01T13:12:20", "series": "Outgoing", "value": 1720},
              {"time": "1900-01-01T13:13:17", "series": "Outgoing", "value": 1873},
              {"time": "1900-01-01T13:14:15", "series": "Outgoing", "value": 1823},
              {"time": "1900-01-01T13:15:12", "series": "Outgoing", "value": 1761},
              {"time": "1900-01-01T13:16:23", "series": "Outgoing", "value": 1396},
              {"time": "1900-01-01T13:17:21", "series": "Outgoing", "value": 1790},
              {"time": "1900-01-01T13:18:18", "series": "Outgoing", "value": 1657},
              {"time": "1900-01-01T13:19:21", "series": "Outgoing", "value": 1628},
              {"time": "1900-01-01T13:20:18", "series": "Outgoing", "value": 1637},
              {"time": "1900-01-01T13:21:16", "series": "Outgoing", "value": 1740},
              {"time": "1900-01-01T13:22:18", "series": "Outgoing", "value": 1782},
              {"time": "1900-01-01T13:23:15", "series": "Outgoing", "value": 1844},
              {"time": "1900-01-01T13:24:13", "series": "Outgoing", "value": 1865},
              {"time": "1900-01-01T13:25:20", "series": "Outgoing", "value": 1960},
              {"time": "1900-01-01T13:26:26", "series": "Outgoing", "value": 2529},
              {"time": "1900-01-01T13:27:28", "series": "Outgoing", "value": 2404},
              {"time": "1900-01-01T13:28:30", "series": "Outgoing", "value": 2467},
              {"time": "1900-01-01T13:29:28", "series": "Outgoing", "value": 2994},
              {"time": "1900-01-01T13:30:30", "series": "Outgoing", "value": 2861},
              {"time": "1900-01-01T13:31:32", "series": "Outgoing", "value": 2541},
              {"time": "1900-01-01T13:32:34", "series": "Outgoing", "value": 3277},
              {"time": "1900-01-01T13:33:36", "series": "Outgoing", "value": 2820},
              {"time": "1900-01-01T13:34:34", "series": "Outgoing", "value": 2155},
              {"time": "1900-01-01T13:35:36", "series": "Outgoing", "value": 2168},
              {"time": "1900-01-01T13:36:38", "series": "Outgoing", "value": 2363},
              {"time": "1900-01-01T13:37:35", "series": "Outgoing", "value": 2571},
              {"time": "1900-01-01T13:38:33", "series": "Outgoing", "value": 2674},
              {"time": "1900-01-01T13:39:35", "series": "Outgoing", "value": 3173},
              {"time": "1900-01-01T13:40:33", "series": "Outgoing", "value": 2882},
              {"time": "1900-01-01T13:41:35", "series": "Outgoing", "value": 2737},
              {"time": "1900-01-01T13:42:37", "series": "Outgoing", "value": 2799},
              {"time": "1900-01-01T13:43:34", "series": "Outgoing", "value": 2695},
              {"time": "1900-01-01T13:44:36", "series": "Outgoing", "value": 2708},
              {"time": "1900-01-01T13:45:38", "series": "Outgoing", "value": 2550},
              {"time": "1900-01-01T13:46:36", "series": "Outgoing", "value": 2467},
              {"time": "1900-01-01T13:47:38", "series": "Outgoing", "value": 3152},
              {"time": "1900-01-01T13:48:40", "series": "Outgoing", "value": 3767},
              {"time": "1900-01-01T13:49:38", "series": "Outgoing", "value": 2986},
              {"time": "1900-01-01T13:50:40", "series": "Outgoing", "value": 3679},
              {"time": "1900-01-01T13:51:38", "series": "Outgoing", "value": 3069},
              {"time": "1900-01-01T13:52:40", "series": "Outgoing", "value": 2932},
              {"time": "1900-01-01T13:53:41", "series": "Outgoing", "value": 2944},
              {"time": "1900-01-01T13:54:39", "series": "Outgoing", "value": 3331},
              {"time": "1900-01-01T13:55:41", "series": "Outgoing", "value": 3110},
              {"time": "1900-01-01T13:56:17", "series": "Outgoing", "value": 2882},
              {"time": "1900-01-01T13:56:52", "series": "Outgoing", "value": 2633},
              {"time": "1900-01-01T13:57:45", "series": "Outgoing", "value": 2674},
              {"time": "1900-01-01T13:58:43", "series": "Outgoing", "value": 2197},
              {"time": "1900-01-01T13:59:45", "series": "Outgoing", "value": 2645},
              {"time": "1900-01-01T14:00:47", "series": "Outgoing", "value": 1553},
              {"time": "1900-01-01T14:01:49", "series": "Outgoing", "value": 1159},
              {"time": "1900-01-01T14:02:47", "series": "Outgoing", "value": 1200},
              {"time": "1900-01-01T14:03:53", "series": "Outgoing", "value": 1200},
              {"time": "1900-01-01T14:04:51", "series": "Outgoing", "value": 1333},
              {"time": "1900-01-01T14:05:53", "series": "Outgoing", "value": 1271},
              {"time": "1900-01-01T14:06:51", "series": "Outgoing", "value": 1221},
              {"time": "1900-01-01T14:07:53", "series": "Outgoing", "value": 1130},
              {"time": "1900-01-01T14:08:50", "series": "Outgoing", "value": 1188},
              {"time": "1900-01-01T14:09:48", "series": "Outgoing", "value": 1209},
              {"time": "1900-01-01T14:10:50", "series": "Outgoing", "value": 1159},
              {"time": "1900-01-01T14:11:48", "series": "Outgoing", "value": 1230},
              {"time": "1900-01-01T14:12:50", "series": "Outgoing", "value": 1230},
              {"time": "1900-01-01T14:13:47", "series": "Outgoing", "value": 1333},
              {"time": "1900-01-01T14:14:49", "series": "Outgoing", "value": 1499},
              {"time": "1900-01-01T14:15:47", "series": "Outgoing", "value": 1146},
              {"time": "1900-01-01T14:16:49", "series": "Outgoing", "value": 1180},
              {"time": "1900-01-01T14:17:47", "series": "Outgoing", "value": 1263},
              {"time": "1900-01-01T14:18:49", "series": "Outgoing", "value": 1146},
              {"time": "1900-01-01T14:19:46", "series": "Outgoing", "value": 1109},
              {"time": "1900-01-01T14:20:44", "series": "Outgoing", "value": 1109},
              {"time": "1900-01-01T14:21:46", "series": "Outgoing", "value": 1109},
              {"time": "1900-01-01T14:22:43", "series": "Outgoing", "value": 1138},
              {"time": "1900-01-01T14:23:45", "series": "Outgoing", "value": 1180},
              {"time": "1900-01-01T14:24:43", "series": "Outgoing", "value": 1221},
              {"time": "1900-01-01T14:25:45", "series": "Outgoing", "value": 1167},
              {"time": "1900-01-01T14:26:43", "series": "Outgoing", "value": 1117},
              {"time": "1900-01-01T14:27:49", "series": "Outgoing", "value": 1283},
              {"time": "1900-01-01T14:28:51", "series": "Outgoing", "value": 1138},
              {"time": "1900-01-01T14:29:53", "series": "Outgoing", "value": 1242},
              {"time": "1900-01-01T14:30:51", "series": "Outgoing", "value": 1292},
              {"time": "1900-01-01T14:31:57", "series": "Outgoing", "value": 1068},
              {"time": "1900-01-01T14:32:59", "series": "Outgoing", "value": 1167},
              {"time": "1900-01-01T14:33:57", "series": "Outgoing", "value": 1055},
              {"time": "1900-01-01T14:34:59", "series": "Outgoing", "value": 1084},
              {"time": "1900-01-01T14:36:01", "series": "Outgoing", "value": 1167},
              {"time": "1900-01-01T14:36:59", "series": "Outgoing", "value": 959},
              {"time": "1900-01-01T14:38:01", "series": "Outgoing", "value": 939},
              {"time": "1900-01-01T14:38:59", "series": "Outgoing", "value": 1097},
              {"time": "1900-01-01T14:40:00", "series": "Outgoing", "value": 1200},
              {"time": "1900-01-01T14:41:03", "series": "Outgoing", "value": 1117},
              {"time": "1900-01-01T14:42:00", "series": "Outgoing", "value": 1375},
              {"time": "1900-01-01T14:43:02", "series": "Outgoing", "value": 1200},
              {"time": "1900-01-01T14:44:00", "series": "Outgoing", "value": 1271},
              {"time": "1900-01-01T14:45:02", "series": "Outgoing", "value": 1292},
              {"time": "1900-01-01T14:45:59", "series": "Outgoing", "value": 1146},
              {"time": "1900-01-01T14:47:02", "series": "Outgoing", "value": 1084},
              {"time": "1900-01-01T14:47:59", "series": "Outgoing", "value": 931},
              {"time": "1900-01-01T14:49:01", "series": "Outgoing", "value": 1159},
              {"time": "1900-01-01T14:49:59", "series": "Outgoing", "value": 1151},
              {"time": "1900-01-01T14:51:01", "series": "Outgoing", "value": 835},
              {"time": "1900-01-01T14:52:03", "series": "Outgoing", "value": 1242},
              {"time": "1900-01-01T14:53:01", "series": "Outgoing", "value": 1084},
              {"time": "1900-01-01T14:54:03", "series": "Outgoing", "value": 1076},
              {"time": "1900-01-01T14:55:05", "series": "Outgoing", "value": 1026},
              {"time": "1900-01-01T14:56:02", "series": "Outgoing", "value": 918},
              {"time": "1900-01-01T14:57:04", "series": "Outgoing", "value": 939},
              {"time": "1900-01-01T14:58:06", "series": "Outgoing", "value": 959},
              {"time": "1900-01-01T14:59:08", "series": "Outgoing", "value": 972},
              {"time": "1900-01-01T15:00:10", "series": "Outgoing", "value": 494},
              {"time": "1900-01-01T13:00:08", "series": "Incoming", "value": 1624},
              {"time": "1900-01-01T13:01:19", "series": "Incoming", "value": 1026},
              {"time": "1900-01-01T13:02:17", "series": "Incoming", "value": 1001},
              {"time": "1900-01-01T13:03:14", "series": "Incoming", "value": 847},
              {"time": "1900-01-01T13:04:12", "series": "Incoming", "value": 1014},
              {"time": "1900-01-01T13:05:10", "series": "Incoming", "value": 910},
              {"time": "1900-01-01T13:06:16", "series": "Incoming", "value": 1263},
              {"time": "1900-01-01T13:07:14", "series": "Incoming", "value": 1354},
              {"time": "1900-01-01T13:08:16", "series": "Incoming", "value": 1678},
              {"time": "1900-01-01T13:09:18", "series": "Incoming", "value": 1470},
              {"time": "1900-01-01T13:10:20", "series": "Incoming", "value": 1221},
              {"time": "1900-01-01T13:11:17", "series": "Incoming", "value": 1275},
              {"time": "1900-01-01T13:12:20", "series": "Incoming", "value": 1014},
              {"time": "1900-01-01T13:13:17", "series": "Incoming", "value": 1234},
              {"time": "1900-01-01T13:14:15", "series": "Incoming", "value": 1146},
              {"time": "1900-01-01T13:15:12", "series": "Incoming", "value": 1151},
              {"time": "1900-01-01T13:16:23", "series": "Incoming", "value": 860},
              {"time": "1900-01-01T13:17:21", "series": "Incoming", "value": 1159},
              {"time": "1900-01-01T13:18:18", "series": "Incoming", "value": 1034},
              {"time": "1900-01-01T13:19:21", "series": "Incoming", "value": 1022},
              {"time": "1900-01-01T13:20:18", "series": "Incoming", "value": 1022},
              {"time": "1900-01-01T13:21:16", "series": "Incoming", "value": 1068},
              {"time": "1900-01-01T13:22:18", "series": "Incoming", "value": 1138},
              {"time": "1900-01-01T13:23:15", "series": "Incoming", "value": 1109},
              {"time": "1900-01-01T13:24:13", "series": "Incoming", "value": 1209},
              {"time": "1900-01-01T13:25:20", "series": "Incoming", "value": 1209},
              {"time": "1900-01-01T13:26:26", "series": "Incoming", "value": 1595},
              {"time": "1900-01-01T13:27:28", "series": "Incoming", "value": 1429},
              {"time": "1900-01-01T13:28:30", "series": "Incoming", "value": 1583},
              {"time": "1900-01-01T13:29:28", "series": "Incoming", "value": 1873},
              {"time": "1900-01-01T13:30:30", "series": "Incoming", "value": 1678},
              {"time": "1900-01-01T13:31:32", "series": "Incoming", "value": 1441},
              {"time": "1900-01-01T13:32:34", "series": "Incoming", "value": 2114},
              {"time": "1900-01-01T13:34:34", "series": "Incoming", "value": 1250},
              {"time": "1900-01-01T13:35:36", "series": "Incoming", "value": 1325},
              {"time": "1900-01-01T13:36:38", "series": "Incoming", "value": 1408},
              {"time": "1900-01-01T13:37:35", "series": "Incoming", "value": 1583},
              {"time": "1900-01-01T13:38:33", "series": "Incoming", "value": 1607},
              {"time": "1900-01-01T13:39:35", "series": "Incoming", "value": 1873},
              {"time": "1900-01-01T13:40:33", "series": "Incoming", "value": 1678},
              {"time": "1900-01-01T13:41:35", "series": "Incoming", "value": 1740},
              {"time": "1900-01-01T13:42:37", "series": "Incoming", "value": 1886},
              {"time": "1900-01-01T13:43:34", "series": "Incoming", "value": 1678},
              {"time": "1900-01-01T13:44:36", "series": "Incoming", "value": 1823},
              {"time": "1900-01-01T13:45:38", "series": "Incoming", "value": 1678},
              {"time": "1900-01-01T13:46:36", "series": "Incoming", "value": 1720},
              {"time": "1900-01-01T13:47:38", "series": "Incoming", "value": 2039},
              {"time": "1900-01-01T13:48:40", "series": "Incoming", "value": 2218},
              {"time": "1900-01-01T13:49:38", "series": "Incoming", "value": 1649},
              {"time": "1900-01-01T13:50:40", "series": "Incoming", "value": 2072},
              {"time": "1900-01-01T13:51:38", "series": "Incoming", "value": 1803},
              {"time": "1900-01-01T13:52:40", "series": "Incoming", "value": 1790},
              {"time": "1900-01-01T13:53:41", "series": "Incoming", "value": 1657},
              {"time": "1900-01-01T13:54:39", "series": "Incoming", "value": 1865},
              {"time": "1900-01-01T13:55:41", "series": "Incoming", "value": 1740},
              {"time": "1900-01-01T13:56:17", "series": "Incoming", "value": 1657},
              {"time": "1900-01-01T13:56:52", "series": "Incoming", "value": 1574},
              {"time": "1900-01-01T13:57:45", "series": "Incoming", "value": 1678},
              {"time": "1900-01-01T13:58:43", "series": "Incoming", "value": 1367},
              {"time": "1900-01-01T13:59:45", "series": "Incoming", "value": 1553},
              {"time": "1900-01-01T14:00:34", "series": "Incoming", "value": 910},
              {"time": "1900-01-01T14:01:36", "series": "Incoming", "value": 731},
              {"time": "1900-01-01T14:02:47", "series": "Incoming", "value": 773},
              {"time": "1900-01-01T14:03:53", "series": "Incoming", "value": 744},
              {"time": "1900-01-01T14:04:51", "series": "Incoming", "value": 847},
              {"time": "1900-01-01T14:05:53", "series": "Incoming", "value": 773},
              {"time": "1900-01-01T14:06:51", "series": "Incoming", "value": 752},
              {"time": "1900-01-01T14:07:53", "series": "Incoming", "value": 702},
              {"time": "1900-01-01T14:08:50", "series": "Incoming", "value": 764},
              {"time": "1900-01-01T14:09:48", "series": "Incoming", "value": 764},
              {"time": "1900-01-01T14:10:50", "series": "Incoming", "value": 723},
              {"time": "1900-01-01T14:11:48", "series": "Incoming", "value": 773},
              {"time": "1900-01-01T14:12:50", "series": "Incoming", "value": 752},
              {"time": "1900-01-01T14:13:47", "series": "Incoming", "value": 847},
              {"time": "1900-01-01T14:14:49", "series": "Incoming", "value": 943},
              {"time": "1900-01-01T14:15:47", "series": "Incoming", "value": 702},
              {"time": "1900-01-01T14:16:49", "series": "Incoming", "value": 744},
              {"time": "1900-01-01T14:17:47", "series": "Incoming", "value": 773},
              {"time": "1900-01-01T14:18:49", "series": "Incoming", "value": 723},
              {"time": "1900-01-01T14:19:46", "series": "Incoming", "value": 710},
              {"time": "1900-01-01T14:20:44", "series": "Incoming", "value": 694},
              {"time": "1900-01-01T14:21:46", "series": "Incoming", "value": 677},
              {"time": "1900-01-01T14:22:43", "series": "Incoming", "value": 702},
              {"time": "1900-01-01T14:23:45", "series": "Incoming", "value": 731},
              {"time": "1900-01-01T14:24:43", "series": "Incoming", "value": 818},
              {"time": "1900-01-01T14:25:45", "series": "Incoming", "value": 744},
              {"time": "1900-01-01T14:26:43", "series": "Incoming", "value": 744},
              {"time": "1900-01-01T14:27:49", "series": "Incoming", "value": 798},
              {"time": "1900-01-01T14:28:51", "series": "Incoming", "value": 702},
              {"time": "1900-01-01T14:29:53", "series": "Incoming", "value": 794},
              {"time": "1900-01-01T14:30:51", "series": "Incoming", "value": 744},
              {"time": "1900-01-01T14:31:57", "series": "Incoming", "value": 640},
              {"time": "1900-01-01T14:32:59", "series": "Incoming", "value": 710},
              {"time": "1900-01-01T14:33:57", "series": "Incoming", "value": 611},
              {"time": "1900-01-01T14:34:59", "series": "Incoming", "value": 652},
              {"time": "1900-01-01T14:36:01", "series": "Incoming", "value": 681},
              {"time": "1900-01-01T14:36:59", "series": "Incoming", "value": 544},
              {"time": "1900-01-01T14:38:01", "series": "Incoming", "value": 536},
              {"time": "1900-01-01T14:38:59", "series": "Incoming", "value": 607},
              {"time": "1900-01-01T14:40:00", "series": "Incoming", "value": 611},
              {"time": "1900-01-01T14:41:03", "series": "Incoming", "value": 598},
              {"time": "1900-01-01T14:42:00", "series": "Incoming", "value": 744},
              {"time": "1900-01-01T14:43:02", "series": "Incoming", "value": 702},
              {"time": "1900-01-01T14:44:00", "series": "Incoming", "value": 702},
              {"time": "1900-01-01T14:45:02", "series": "Incoming", "value": 731},
              {"time": "1900-01-01T14:45:59", "series": "Incoming", "value": 681},
              {"time": "1900-01-01T14:47:02", "series": "Incoming", "value": 652},
              {"time": "1900-01-01T14:47:59", "series": "Incoming", "value": 586},
              {"time": "1900-01-01T14:49:01", "series": "Incoming", "value": 681},
              {"time": "1900-01-01T14:49:59", "series": "Incoming", "value": 694},
              {"time": "1900-01-01T14:51:01", "series": "Incoming", "value": 619},
              {"time": "1900-01-01T14:52:03", "series": "Incoming", "value": 661},
              {"time": "1900-01-01T14:53:01", "series": "Incoming", "value": 652},
              {"time": "1900-01-01T14:54:03", "series": "Incoming", "value": 652},
              {"time": "1900-01-01T14:55:05", "series": "Incoming", "value": 627},
              {"time": "1900-01-01T14:56:02", "series": "Incoming", "value": 569},
              {"time": "1900-01-01T14:57:04", "series": "Incoming", "value": 586},
              {"time": "1900-01-01T14:58:06", "series": "Incoming", "value": 611},
              {"time": "1900-01-01T14:59:08", "series": "Incoming", "value": 619},
              {"time": "1900-01-01T15:00:10", "series": "Incoming", "value": 877},
              {"time": "1900-01-01T13:00:08", "series": "QueueSize", "value": 0},
              {"time": "1900-01-01T13:20:00", "series": "QueueSize", "value": 0},
              {"time": "1900-01-01T13:40:33", "series": "QueueSize", "value": 0},
              {"time": "1900-01-01T13:42:37", "series": "QueueSize", "value": 5},
              {"time": "1900-01-01T13:44:36", "series": "QueueSize", "value": 15},
              {"time": "1900-01-01T13:46:36", "series": "QueueSize", "value": 30},
              {"time": "1900-01-01T13:47:38", "series": "QueueSize", "value": 42},
              {"time": "1900-01-01T13:48:40", "series": "QueueSize", "value": 45},
              {"time": "1900-01-01T13:49:38", "series": "QueueSize", "value": 35},
              {"time": "1900-01-01T13:50:40", "series": "QueueSize", "value": 25},
              {"time": "1900-01-01T13:51:38", "series": "QueueSize", "value": 20},
              {"time": "1900-01-01T13:52:40", "series": "QueueSize", "value": 20},
              {"time": "1900-01-01T13:53:41", "series": "QueueSize", "value": 15},
              {"time": "1900-01-01T13:55:41", "series": "QueueSize", "value": 5},
              {"time": "1900-01-01T13:57:45", "series": "QueueSize", "value": 0},
              {"time": "1900-01-01T14:20:00", "series": "QueueSize", "value": 0},
              {"time": "1900-01-01T14:49:59", "series": "QueueSize", "value": 0},
              {"time": "1900-01-01T14:51:01", "series": "QueueSize", "value": 8},
              {"time": "1900-01-01T14:52:03", "series": "QueueSize", "value": 0},
              {"time": "1900-01-01T15:00:10", "series": "QueueSize", "value": 0}
            ]
          },
          "mark": {"type": "line", "strokeWidth": 1},
          "encoding": {
            "x": {
              "field": "time",
              "type": "temporal",
              "title": null,
              "scale": {
                "domain": [
                  {"year": 1900, "month": 1, "date": 1, "hours": 13, "minutes": 0, "seconds": 8},
                  {"year": 1900, "month": 1, "date": 1, "hours": 15, "minutes": 0, "seconds": 10}
                ]
              },
              "axis": {
                "values": [
                  {"year": 1900, "month": 1, "date": 1, "hours": 13, "minutes": 5},
                  {"year": 1900, "month": 1, "date": 1, "hours": 13, "minutes": 10},
                  {"year": 1900, "month": 1, "date": 1, "hours": 13, "minutes": 15},
                  {"year": 1900, "month": 1, "date": 1, "hours": 13, "minutes": 20},
                  {"year": 1900, "month": 1, "date": 1, "hours": 13, "minutes": 25},
                  {"year": 1900, "month": 1, "date": 1, "hours": 13, "minutes": 30},
                  {"year": 1900, "month": 1, "date": 1, "hours": 13, "minutes": 35},
                  {"year": 1900, "month": 1, "date": 1, "hours": 13, "minutes": 40},
                  {"year": 1900, "month": 1, "date": 1, "hours": 13, "minutes": 45},
                  {"year": 1900, "month": 1, "date": 1, "hours": 13, "minutes": 50},
                  {"year": 1900, "month": 1, "date": 1, "hours": 13, "minutes": 55},
                  {"year": 1900, "month": 1, "date": 1, "hours": 14, "minutes": 0},
                  {"year": 1900, "month": 1, "date": 1, "hours": 14, "minutes": 5},
                  {"year": 1900, "month": 1, "date": 1, "hours": 14, "minutes": 10},
                  {"year": 1900, "month": 1, "date": 1, "hours": 14, "minutes": 15},
                  {"year": 1900, "month": 1, "date": 1, "hours": 14, "minutes": 20},
                  {"year": 1900, "month": 1, "date": 1, "hours": 14, "minutes": 25},
                  {"year": 1900, "month": 1, "date": 1, "hours": 14, "minutes": 30},
                  {"year": 1900, "month": 1, "date": 1, "hours": 14, "minutes": 35},
                  {"year": 1900, "month": 1, "date": 1, "hours": 14, "minutes": 40},
                  {"year": 1900, "month": 1, "date": 1, "hours": 14, "minutes": 45},
                  {"year": 1900, "month": 1, "date": 1, "hours": 14, "minutes": 50},
                  {"year": 1900, "month": 1, "date": 1, "hours": 14, "minutes": 55}
                ],
                "labelExpr": "minutes(datum.value) % 20 === 0 ? timeFormat(datum.value, '%H:%M') : ''",
                "grid": true,
                "gridColor": {"condition": {"test": "minutes(datum.value) % 20 === 0", "value": "#dcc4dc"}, "value": "#e6e6e6"},
                "gridWidth": 1,
                "labelPadding": 10
              }
            },
            "y": {
              "field": "value",
              "type": "quantitative",
              "title": null,
              "scale": {"domain": [0, 4000], "nice": false},
              "axis": {
                "values": [0, 500, 1000, 1500, 2000, 2500, 3000, 3500, 4000],
                "labelExpr": "datum.value % 1000 !== 0 ? '' : datum.value === 0 ? '0' : format(datum.value / 1000, '.1f') + ' K'",
                "grid": true,
                "gridColor": {"condition": {"test": "datum.value % 1000 === 0", "value": "#e8d2e8"}, "value": "#e6e6e6"},
                "gridWidth": 1,
                "labelPadding": 7
              }
            },
            "color": {
              "field": "series",
              "type": "nominal",
              "scale": {"domain": ["Outgoing", "Incoming", "QueueSize"], "range": ["#6464ff", "#00c000", "#cc0033"]},
              "legend": {
                "title": null,
                "orient": "none",
                "direction": "horizontal",
                "legendX": -27,
                "legendY": 352,
                "symbolType": "square",
                "symbolSize": 1,
                "symbolStrokeWidth": 10,
                "labelFont": "DejaVu Sans Mono",
                "labelFontSize": 10,
                "labelColor": "#222222",
                "labelOffset": 5,
                "columnPadding": -2,
                "gridAlign": "all"
              }
            }
          }
        }
      ]
    }
  ]
}
